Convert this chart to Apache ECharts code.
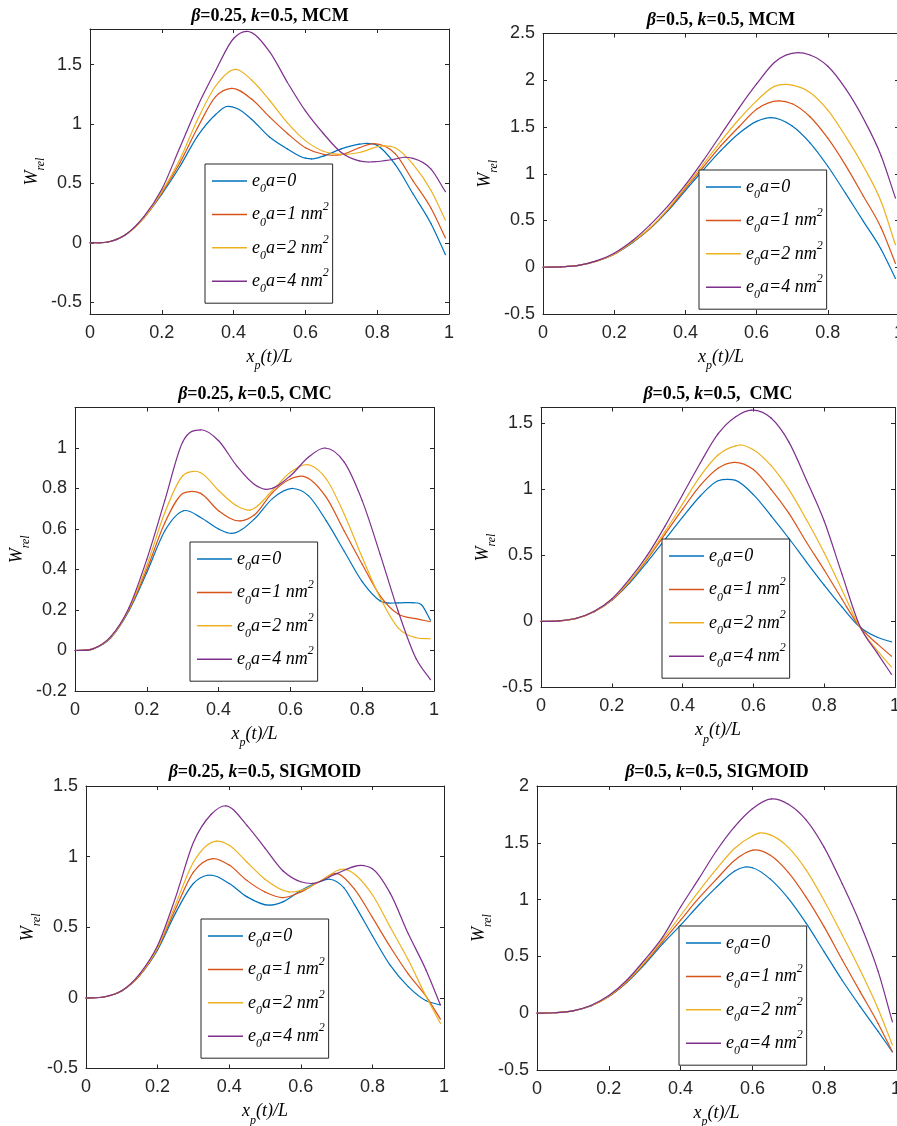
<!DOCTYPE html>
<html>
<head>
<meta charset="utf-8">
<title>W_rel vs x_p(t)/L</title>
<script src="https://cdn.jsdelivr.net/npm/echarts@6/dist/echarts.min.js"></script>
<style>
  html, body { margin: 0; padding: 0; background: #fff; }
  #chart { width: 897px; height: 1126px; }
</style>
</head>
<body>
<div id="chart"></div>
<script>
// each curve is a list of [x_p(t)/L, W_rel] points
// (0.05 steps plus the read peaks / dips)
const seriesNames = ['e0a=0', 'e0a=1 nm2', 'e0a=2 nm2', 'e0a=4 nm2'];
const colors = ['#0072BD', '#D95319', '#EDB120', '#7E2F8E'];

// beta=0.25, MCM
const mcm025e0 = [[0,0],[0.05,0.006],[0.1,0.07],[0.15,0.21],[0.2,0.41],[0.25,0.64],[0.3,0.9],[0.35,1.08],[0.38,1.147],[0.41,1.13],[0.45,1.04],[0.5,0.89],[0.55,0.79],[0.6,0.712],[0.617,0.706],[0.65,0.73],[0.7,0.79],[0.75,0.83],[0.766,0.836],[0.8,0.82],[0.85,0.66],[0.9,0.41],[0.95,0.16],[0.99,-0.1]];
const mcm025e1 = [[0,0],[0.05,0.006],[0.1,0.07],[0.15,0.21],[0.2,0.42],[0.25,0.67],[0.3,0.97],[0.35,1.23],[0.395,1.3],[0.45,1.21],[0.5,1.06],[0.55,0.92],[0.6,0.8],[0.65,0.745],[0.675,0.737],[0.7,0.742],[0.75,0.8],[0.79,0.835],[0.85,0.75],[0.9,0.52],[0.95,0.29],[0.99,0.04]];
const mcm025e2 = [[0,0],[0.05,0.006],[0.1,0.07],[0.15,0.21],[0.2,0.43],[0.25,0.7],[0.3,1.04],[0.35,1.32],[0.407,1.46],[0.45,1.37],[0.5,1.2],[0.55,1.01],[0.6,0.86],[0.65,0.77],[0.715,0.745],[0.75,0.76],[0.817,0.816],[0.85,0.8],[0.9,0.66],[0.95,0.44],[0.99,0.19]];
const mcm025e4 = [[0,0],[0.05,0.006],[0.1,0.07],[0.15,0.22],[0.2,0.45],[0.25,0.8],[0.3,1.15],[0.35,1.45],[0.4,1.72],[0.436,1.78],[0.5,1.61],[0.55,1.35],[0.6,1.11],[0.65,0.92],[0.7,0.76],[0.75,0.69],[0.775,0.68],[0.8,0.684],[0.85,0.705],[0.877,0.72],[0.9,0.71],[0.95,0.62],[0.99,0.43]];

// beta=0.5, MCM
const mcm05e0 = [[0,0],[0.05,0.004],[0.1,0.02],[0.15,0.065],[0.2,0.14],[0.25,0.26],[0.3,0.41],[0.35,0.6],[0.4,0.82],[0.45,1.04],[0.5,1.25],[0.55,1.43],[0.6,1.56],[0.64,1.6],[0.7,1.51],[0.75,1.33],[0.8,1.08],[0.85,0.79],[0.9,0.49],[0.95,0.19],[0.99,-0.12]];
const mcm05e1 = [[0,0],[0.05,0.004],[0.1,0.02],[0.15,0.065],[0.2,0.14],[0.25,0.265],[0.3,0.415],[0.35,0.61],[0.4,0.84],[0.45,1.07],[0.5,1.3],[0.55,1.5],[0.6,1.69],[0.662,1.78],[0.7,1.749],[0.75,1.61],[0.8,1.38],[0.85,1.09],[0.9,0.76],[0.95,0.42],[0.99,0.04]];
const mcm05e2 = [[0,0],[0.05,0.004],[0.1,0.02],[0.15,0.066],[0.2,0.142],[0.25,0.27],[0.3,0.42],[0.35,0.62],[0.4,0.86],[0.45,1.1],[0.5,1.35],[0.55,1.58],[0.6,1.78],[0.65,1.935],[0.68,1.955],[0.7,1.948],[0.75,1.87],[0.8,1.68],[0.85,1.4],[0.9,1.08],[0.95,0.7],[0.99,0.24]];
const mcm05e4 = [[0,0],[0.05,0.004],[0.1,0.02],[0.15,0.068],[0.2,0.15],[0.25,0.28],[0.3,0.45],[0.35,0.65],[0.4,0.88],[0.45,1.14],[0.5,1.42],[0.55,1.7],[0.6,1.96],[0.65,2.19],[0.716,2.295],[0.75,2.27],[0.8,2.15],[0.85,1.91],[0.9,1.59],[0.95,1.19],[0.99,0.74]];

// beta=0.25, CMC
const cmc025e0 = [[0,0],[0.05,0.008],[0.1,0.063],[0.15,0.195],[0.2,0.385],[0.25,0.59],[0.302,0.69],[0.35,0.657],[0.4,0.6],[0.436,0.578],[0.5,0.65],[0.55,0.75],[0.608,0.8],[0.65,0.765],[0.7,0.64],[0.75,0.49],[0.8,0.34],[0.85,0.245],[0.9,0.235],[0.94,0.236],[0.965,0.226],[0.99,0.15]];
const cmc025e1 = [[0,0],[0.05,0.008],[0.1,0.065],[0.15,0.2],[0.2,0.4],[0.25,0.63],[0.3,0.775],[0.32,0.785],[0.35,0.776],[0.4,0.69],[0.46,0.64],[0.5,0.67],[0.55,0.78],[0.6,0.847],[0.636,0.86],[0.7,0.756],[0.75,0.59],[0.8,0.426],[0.85,0.27],[0.9,0.18],[0.95,0.157],[0.99,0.142]];
const cmc025e2 = [[0,0],[0.05,0.008],[0.1,0.066],[0.15,0.205],[0.2,0.42],[0.25,0.68],[0.3,0.863],[0.33,0.885],[0.35,0.878],[0.4,0.79],[0.45,0.715],[0.487,0.693],[0.55,0.79],[0.6,0.88],[0.655,0.915],[0.7,0.847],[0.75,0.673],[0.8,0.46],[0.85,0.26],[0.9,0.112],[0.95,0.063],[0.99,0.058]];
const cmc025e4 = [[0,0],[0.05,0.008],[0.1,0.07],[0.15,0.21],[0.2,0.45],[0.25,0.74],[0.3,1.03],[0.351,1.09],[0.4,1.036],[0.45,0.913],[0.5,0.82],[0.53,0.796],[0.6,0.863],[0.65,0.954],[0.696,1.0],[0.75,0.93],[0.8,0.74],[0.85,0.475],[0.9,0.195],[0.95,-0.04],[0.99,-0.144]];

// beta=0.5, CMC
const cmc05e0 = [[0,0],[0.05,0.004],[0.1,0.023],[0.15,0.073],[0.2,0.16],[0.25,0.29],[0.3,0.45],[0.35,0.62],[0.4,0.79],[0.45,0.95],[0.5,1.065],[0.527,1.076],[0.55,1.068],[0.6,0.96],[0.65,0.8],[0.7,0.63],[0.75,0.45],[0.8,0.275],[0.85,0.11],[0.9,-0.04],[0.95,-0.12],[0.99,-0.155]];
const cmc05e1 = [[0,0],[0.05,0.004],[0.1,0.023],[0.15,0.074],[0.2,0.162],[0.25,0.3],[0.3,0.47],[0.35,0.66],[0.4,0.85],[0.45,1.03],[0.5,1.16],[0.546,1.205],[0.6,1.15],[0.65,1.0],[0.7,0.82],[0.75,0.6],[0.8,0.39],[0.85,0.17],[0.9,-0.04],[0.95,-0.17],[0.99,-0.263]];
const cmc05e2 = [[0,0],[0.05,0.004],[0.1,0.023],[0.15,0.075],[0.2,0.165],[0.25,0.305],[0.3,0.48],[0.35,0.68],[0.4,0.89],[0.45,1.1],[0.5,1.26],[0.55,1.33],[0.563,1.336],[0.6,1.3],[0.65,1.18],[0.7,1.0],[0.75,0.77],[0.8,0.52],[0.85,0.24],[0.9,-0.04],[0.95,-0.22],[0.99,-0.344]];
const cmc05e4 = [[0,0],[0.05,0.004],[0.1,0.024],[0.15,0.077],[0.2,0.17],[0.25,0.32],[0.3,0.5],[0.35,0.72],[0.4,0.96],[0.45,1.2],[0.5,1.42],[0.55,1.55],[0.595,1.6],[0.65,1.54],[0.7,1.36],[0.75,1.07],[0.8,0.76],[0.85,0.36],[0.9,-0.03],[0.95,-0.24],[0.99,-0.4]];

// beta=0.25, SIGMOID
const sig025e0 = [[0,0],[0.05,0.006],[0.1,0.05],[0.15,0.16],[0.2,0.34],[0.25,0.6],[0.3,0.81],[0.34,0.868],[0.4,0.81],[0.45,0.715],[0.512,0.656],[0.55,0.68],[0.6,0.76],[0.65,0.82],[0.68,0.84],[0.72,0.78],[0.75,0.66],[0.8,0.44],[0.85,0.23],[0.9,0.08],[0.95,-0.02],[0.99,-0.05]];
const sig025e1 = [[0,0],[0.05,0.006],[0.1,0.05],[0.15,0.16],[0.2,0.35],[0.25,0.63],[0.3,0.89],[0.354,0.986],[0.4,0.94],[0.45,0.83],[0.5,0.75],[0.55,0.71],[0.6,0.75],[0.65,0.82],[0.703,0.88],[0.75,0.77],[0.8,0.57],[0.85,0.36],[0.9,0.17],[0.95,0.01],[0.99,-0.15]];
const sig025e2 = [[0,0],[0.05,0.006],[0.1,0.05],[0.15,0.165],[0.2,0.355],[0.25,0.66],[0.3,0.96],[0.365,1.11],[0.4,1.08],[0.45,0.96],[0.5,0.84],[0.567,0.75],[0.6,0.76],[0.65,0.82],[0.725,0.91],[0.8,0.73],[0.85,0.5],[0.9,0.27],[0.95,0.01],[0.99,-0.18]];
const sig025e4 = [[0,0],[0.05,0.006],[0.1,0.05],[0.15,0.17],[0.2,0.37],[0.25,0.71],[0.3,1.1],[0.35,1.3],[0.39,1.36],[0.45,1.22],[0.5,1.06],[0.55,0.9],[0.6,0.822],[0.633,0.81],[0.7,0.88],[0.777,0.936],[0.8,0.915],[0.85,0.74],[0.9,0.455],[0.95,0.196],[0.99,-0.05]];

// beta=0.5, SIGMOID
const sig05e0 = [[0,0],[0.05,0.004],[0.1,0.02],[0.15,0.064],[0.2,0.146],[0.25,0.27],[0.3,0.43],[0.35,0.61],[0.4,0.775],[0.45,0.95],[0.5,1.11],[0.55,1.25],[0.58,1.287],[0.6,1.28],[0.65,1.18],[0.7,1.01],[0.75,0.79],[0.8,0.54],[0.85,0.29],[0.9,0.06],[0.95,-0.16],[0.99,-0.34]];
const sig05e1 = [[0,0],[0.05,0.004],[0.1,0.02],[0.15,0.065],[0.2,0.148],[0.25,0.275],[0.3,0.44],[0.35,0.63],[0.4,0.82],[0.45,1.01],[0.5,1.18],[0.55,1.345],[0.602,1.436],[0.65,1.39],[0.7,1.24],[0.75,1.02],[0.8,0.76],[0.85,0.47],[0.9,0.19],[0.95,-0.09],[0.99,-0.34]];
const sig05e2 = [[0,0],[0.05,0.004],[0.1,0.02],[0.15,0.066],[0.2,0.15],[0.25,0.28],[0.3,0.45],[0.35,0.65],[0.4,0.86],[0.45,1.07],[0.5,1.27],[0.55,1.45],[0.6,1.56],[0.618,1.585],[0.65,1.57],[0.7,1.46],[0.75,1.26],[0.8,0.99],[0.85,0.69],[0.9,0.38],[0.95,0.04],[0.99,-0.28]];
const sig05e4 = [[0,0],[0.05,0.004],[0.1,0.021],[0.15,0.068],[0.2,0.155],[0.25,0.29],[0.3,0.47],[0.35,0.67],[0.4,0.935],[0.45,1.18],[0.5,1.43],[0.55,1.64],[0.6,1.8],[0.653,1.886],[0.7,1.84],[0.75,1.7],[0.8,1.46],[0.85,1.14],[0.9,0.79],[0.95,0.37],[0.99,-0.076]];

// tick values
const ticksHalfA = [-0.5, 0, 0.5, 1, 1.5];
const ticksHalfB = [-0.5, 0, 0.5, 1, 1.5, 2, 2.5];
const ticksFifth = [-0.2, 0, 0.2, 0.4, 0.6, 0.8, 1];
const ticksHalfC = [-0.5, 0, 0.5, 1, 1.5, 2];
const xTicks = [0, 0.2, 0.4, 0.6, 0.8, 1];

const ink = '#262626';
const serif = '"Liberation Serif", "Times New Roman", serif';
const sans = '"Liberation Sans", Arial, sans-serif';

const panels = [
  { title: '{g|β}{b|=0.25, }{g|k}{b|=0.5, MCM}', tx: 270, ty: 5,
    grid: { left: 90, top: 29, width: 359, height: 285 }, yMin: -0.6, yMax: 1.8, yTicks: ticksHalfA,
    lg: { left: 205, top: 164 }, curves: [mcm025e0, mcm025e1, mcm025e2, mcm025e4] },
  { title: '{g|β}{b|=0.5, }{g|k}{b|=0.5, MCM}', tx: 721, ty: 9,
    grid: { left: 543, top: 33.5, width: 356, height: 280.5 }, yMin: -0.5, yMax: 2.5, yTicks: ticksHalfB,
    lg: { left: 699, top: 170 }, curves: [mcm05e0, mcm05e1, mcm05e2, mcm05e4] },
  { title: '{g|β}{b|=0.25, }{g|k}{b|=0.5, CMC}', tx: 255, ty: 383,
    grid: { left: 75, top: 407.5, width: 359, height: 283.5 }, yMin: -0.2, yMax: 1.2, yTicks: ticksFifth,
    lg: { left: 190, top: 542 }, curves: [cmc025e0, cmc025e1, cmc025e2, cmc025e4] },
  { title: '{g|β}{b|=0.5, }{g|k}{b|=0.5,  CMC}', tx: 718, ty: 383,
    grid: { left: 541, top: 407.5, width: 354, height: 280 }, yMin: -0.5, yMax: 1.62, yTicks: ticksHalfA,
    lg: { left: 662, top: 539 }, curves: [cmc05e0, cmc05e1, cmc05e2, cmc05e4] },
  { title: '{g|β}{b|=0.25, }{g|k}{b|=0.5, SIGMOID}', tx: 265, ty: 761,
    grid: { left: 86, top: 786, width: 358, height: 282.5 }, yMin: -0.5, yMax: 1.5, yTicks: ticksHalfA,
    lg: { left: 201, top: 919 }, curves: [sig025e0, sig025e1, sig025e2, sig025e4] },
  { title: '{g|β}{b|=0.5, }{g|k}{b|=0.5, SIGMOID}', tx: 717, ty: 761,
    grid: { left: 537, top: 786, width: 359, height: 284 }, yMin: -0.5, yMax: 2, yTicks: ticksHalfC,
    lg: { left: 679, top: 926 }, curves: [sig05e0, sig05e1, sig05e2, sig05e4] }
];

const legendText = {
  'e0a=0': '{i|e}{s|0}{i|a=0}',
  'e0a=1 nm2': '{i|e}{s|0}{i|a=1 nm}{p|2}',
  'e0a=2 nm2': '{i|e}{s|0}{i|a=2 nm}{p|2}',
  'e0a=4 nm2': '{i|e}{s|0}{i|a=4 nm}{p|2}'
};

const italic = (size, lh, extra) => Object.assign({ fontFamily: serif, fontStyle: 'italic', fontSize: size, lineHeight: lh, color: '#000' }, extra || {});

const legendRich = {
  i: italic(18, 28),
  s: italic(12, 12, { verticalAlign: 'bottom' }),
  p: italic(12, 12, { verticalAlign: 'top' })
};
const nameRich = {
  i: italic(18, 30),
  s: italic(12, 12, { verticalAlign: 'bottom' })
};
const titleRich = {
  g: { fontFamily: serif, fontStyle: 'italic', fontWeight: 'bold', fontSize: 18, lineHeight: 22, color: '#000' },
  b: { fontFamily: serif, fontWeight: 'bold', fontSize: 18, lineHeight: 22, color: '#000' }
};

const axisLine = { show: true, onZero: false, lineStyle: { color: ink, width: 1 } };
const tickStyle = { color: ink, width: 1 };
const labelStyle = { color: ink, fontFamily: sans, fontSize: 18 };

// tangent at each read point (three-point estimate, works with uneven spacing)
function slopes(pts) {
  const n = pts.length;
  return pts.map((p, i) => {
    if (i === 0) return (pts[1][1] - p[1]) / (pts[1][0] - p[0]);
    if (i === n - 1) return (p[1] - pts[i - 1][1]) / (p[0] - pts[i - 1][0]);
    const h0 = p[0] - pts[i - 1][0], h1 = pts[i + 1][0] - p[0];
    const d0 = (p[1] - pts[i - 1][1]) / h0, d1 = (pts[i + 1][1] - p[1]) / h1;
    return (h1 * d0 + h0 * d1) / (h0 + h1);
  });
}

// a smooth curve through the read points, placed with the axes' own coord()
function curveSeries(pts, name, color, axisIdx) {
  const m = slopes(pts);
  return {
    type: 'custom', name, xAxisIndex: axisIdx, yAxisIndex: axisIdx,
    data: pts, encode: { x: 0, y: 1 }, itemStyle: { color }, silent: true,
    renderItem: (params, api) => {
      if (params.dataIndex !== 0) return null;
      const children = [];
      for (let i = 0; i < pts.length - 1; i++) {
        const [x0, y0] = pts[i], [x1, y1] = pts[i + 1];
        const h = (x1 - x0) / 3;
        const a = api.coord([x0, y0]), b = api.coord([x1, y1]);
        const c1 = api.coord([x0 + h, y0 + m[i] * h]);
        const c2 = api.coord([x1 - h, y1 - m[i + 1] * h]);
        children.push({
          type: 'bezierCurve',
          shape: { x1: a[0], y1: a[1], x2: b[0], y2: b[1], cpx1: c1[0], cpy1: c1[1], cpx2: c2[0], cpy2: c2[1] },
          style: { stroke: color, lineWidth: 1.2, fill: null, lineCap: 'round' }
        });
      }
      return { type: 'group', children };
    }
  };
}

const option = { animation: false, backgroundColor: '#fff', title: [], grid: [], xAxis: [], yAxis: [], legend: [], series: [] };

panels.forEach((p, i) => {
  option.title.push({ text: p.title, left: p.tx, top: p.ty, textAlign: 'center', padding: 0, textStyle: { rich: titleRich } });
  option.grid.push(Object.assign({ outerBoundsMode: 'none', containLabel: false }, p.grid));

  option.xAxis.push({
    type: 'value', gridIndex: i, position: 'bottom', min: 0, max: 1, interval: 0.2,
    axisLine, splitLine: { show: false },
    axisTick: { inside: true, length: 4, lineStyle: tickStyle, customValues: xTicks },
    axisLabel: Object.assign({ margin: 10, customValues: xTicks }, labelStyle),
    name: '{i|x}{s|p}{i|(t)/L}', nameLocation: 'middle', nameGap: 28, nameTextStyle: { rich: nameRich }
  });
  option.xAxis.push({
    type: 'value', gridIndex: i, position: 'top', min: 0, max: 1, interval: 0.2,
    axisLine, splitLine: { show: false }, axisLabel: { show: false },
    axisTick: { inside: true, length: 4, lineStyle: tickStyle, customValues: xTicks }
  });
  option.yAxis.push({
    type: 'value', gridIndex: i, position: 'left', min: p.yMin, max: p.yMax,
    axisLine, splitLine: { show: false },
    axisTick: { inside: true, length: 4, lineStyle: tickStyle, customValues: p.yTicks },
    axisLabel: Object.assign({ margin: 8, customValues: p.yTicks }, labelStyle),
    name: '{i|W}{s|rel}', nameLocation: 'middle', nameRotate: 90, nameGap: 43, nameTextStyle: { rich: nameRich }
  });
  option.yAxis.push({
    type: 'value', gridIndex: i, position: 'right', min: p.yMin, max: p.yMax,
    axisLine, splitLine: { show: false }, axisLabel: { show: false },
    axisTick: { inside: true, length: 4, lineStyle: tickStyle, customValues: p.yTicks }
  });

  option.legend.push({
    orient: 'vertical', left: p.lg.left, top: p.lg.top,
    padding: [8, 4, 8, 7], itemGap: 5.4, itemWidth: 35, itemHeight: 1.5, icon: 'rect',
    backgroundColor: '#fff', borderColor: ink, borderWidth: 1, selectedMode: false,
    data: seriesNames, formatter: (n) => legendText[n], textStyle: { rich: legendRich }
  });

  p.curves.forEach((c, k) => option.series.push(curveSeries(c, seriesNames[k], colors[k], 2 * i)));
});

const chart = echarts.init(document.getElementById('chart'), null, { renderer: 'canvas' });
chart.setOption(option);
</script>
</body>
</html>
